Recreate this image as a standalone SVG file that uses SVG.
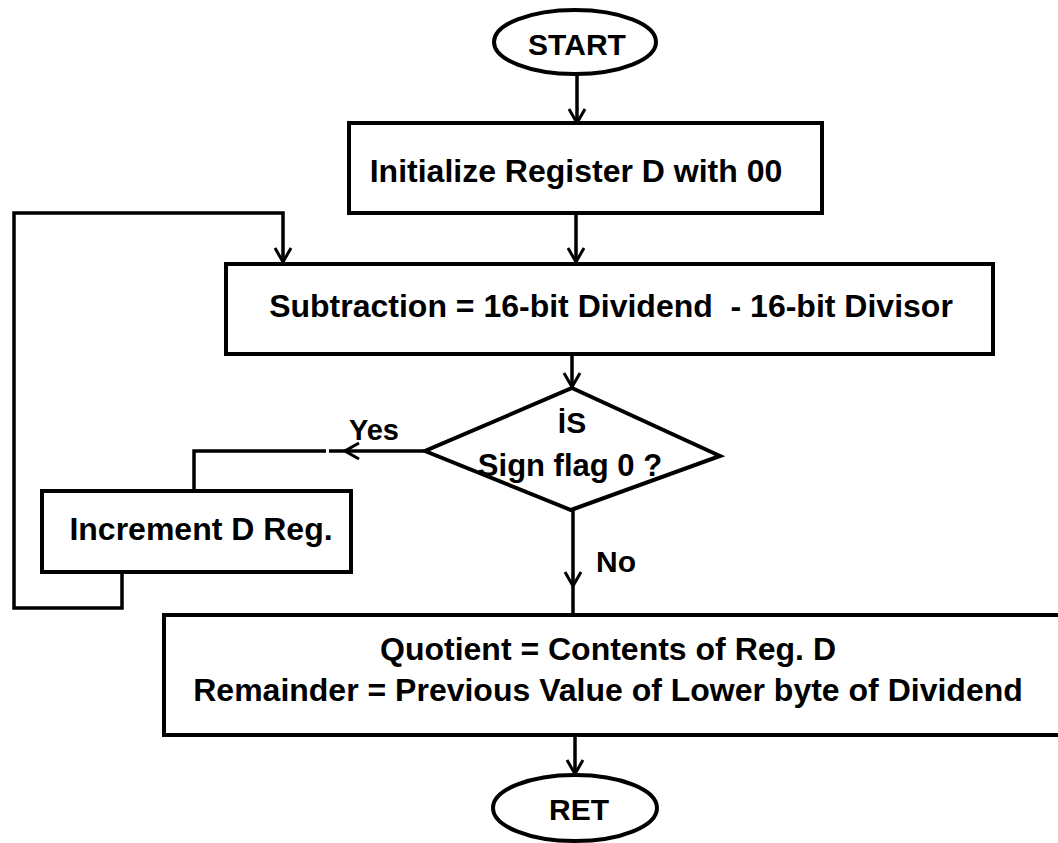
<svg xmlns="http://www.w3.org/2000/svg" width="1058" height="843" viewBox="0 0 1058 843">
  <style>
    .shape { fill: #ffffff; stroke: #000000; stroke-width: 4; }
    .wire { fill: none; stroke: #000000; stroke-width: 3.5; }
    .label { font-family: "Liberation Sans", Arial, sans-serif; font-weight: bold; fill: #000000; text-anchor: middle; white-space: pre; }
  </style>
  <defs>
    <marker id="arrow" viewBox="0 0 16 20" refX="15" refY="10" markerWidth="16" markerHeight="20" markerUnits="userSpaceOnUse" orient="auto">
      <polyline points="1,2 15,10 1,18" fill="none" stroke="#000000" stroke-width="3"/>
    </marker>
  </defs>
  <rect width="1058" height="843" fill="#ffffff"/>

  <g id="connectors">
    <!-- START to initialise -->
    <line class="wire" x1="577" y1="74" x2="577" y2="123" marker-end="url(#arrow)"/>
    <!-- initialise to subtraction -->
    <line class="wire" x1="576" y1="213" x2="576" y2="262" marker-end="url(#arrow)"/>
    <!-- subtraction to decision -->
    <line class="wire" x1="572" y1="354" x2="572" y2="387" marker-end="url(#arrow)"/>
    <!-- Yes branch -->
    <line class="wire" x1="425" y1="451" x2="345" y2="451" marker-end="url(#arrow)"/>
    <line class="wire" x1="345" y1="451" x2="329" y2="451"/>
    <polyline class="wire" points="326,451 194,451 194,491"/>
    <!-- loop back from increment to subtraction -->
    <polyline class="wire" points="122,572 122,608 14,608 14,213 283,213 283,262" marker-end="url(#arrow)"/>
    <!-- No branch -->
    <line class="wire" x1="573" y1="510" x2="573" y2="586" marker-end="url(#arrow)"/>
    <line class="wire" x1="573" y1="586" x2="573" y2="615"/>
    <!-- result to RET -->
    <line class="wire" x1="575" y1="735" x2="575" y2="774" marker-end="url(#arrow)"/>
    <text class="label" x="374" y="440" font-size="29">Yes</text>
    <text class="label" x="616" y="572" font-size="30">No</text>
  </g>

  <g id="start">
    <ellipse class="shape" cx="575" cy="42" rx="81" ry="32"/>
    <text class="label" x="577" y="55" font-size="30">START</text>
  </g>

  <g id="init">
    <rect class="shape" x="349" y="123" width="473" height="90"/>
    <text class="label" x="576" y="182" font-size="32">Initialize Register D with 00</text>
  </g>

  <g id="subtract">
    <rect class="shape" x="226" y="264" width="767" height="90"/>
    <text class="label" x="611" y="317" font-size="32">Subtraction = 16-bit Dividend  - 16-bit Divisor</text>
  </g>

  <g id="decision">
    <polygon class="shape" points="572,388 720,456 571,510 425,451"/>
    <text class="label" x="572" y="433" font-size="30">İS</text>
    <text class="label" x="570" y="476" font-size="31">Sign flag 0 ?</text>
  </g>

  <g id="increment">
    <rect class="shape" x="42" y="491" width="309" height="81"/>
    <text class="label" x="201" y="540" font-size="32">Increment D Reg.</text>
  </g>

  <g id="result">
    <rect class="shape" x="164" y="615" width="910" height="120"/>
    <text class="label" x="608" y="660" font-size="32">Quotient = Contents of Reg. D</text>
    <text class="label" x="608" y="701" font-size="32">Remainder = Previous Value of Lower byte of Dividend</text>
  </g>

  <g id="ret">
    <ellipse class="shape" cx="575" cy="808" rx="82" ry="33"/>
    <text class="label" x="579" y="820" font-size="30">RET</text>
  </g>
</svg>
